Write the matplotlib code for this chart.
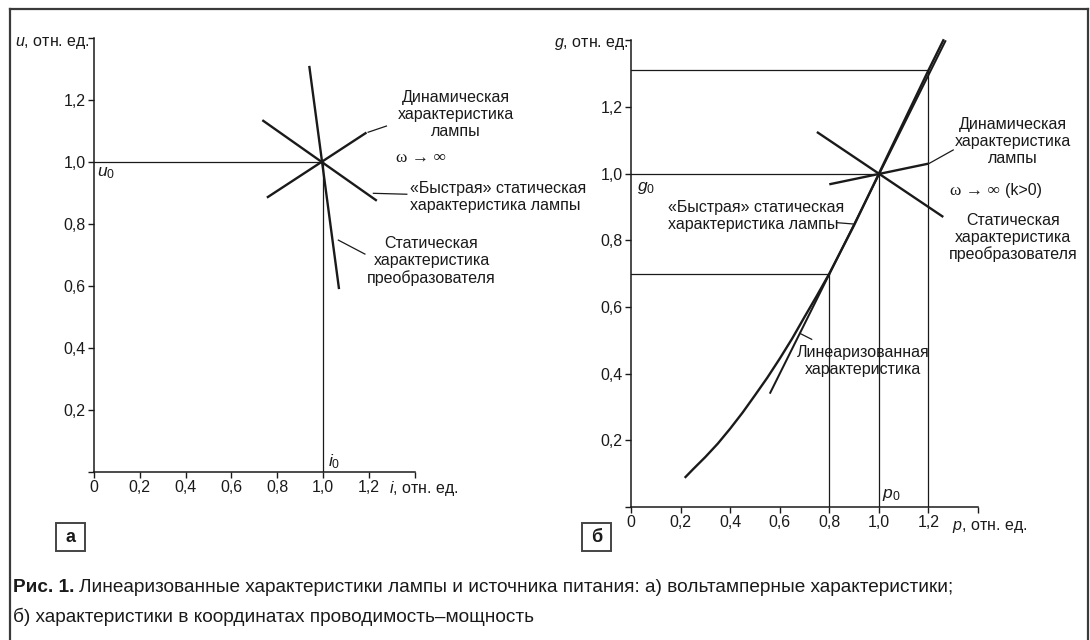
import matplotlib
matplotlib.use("Agg")
import matplotlib.pyplot as plt
from matplotlib.lines import Line2D
from matplotlib.patches import Rectangle

plt.rcParams['font.family'] = ['Liberation Sans', 'DejaVu Sans']
plt.rcParams['mathtext.fontset'] = 'custom'
plt.rcParams['mathtext.it'] = 'Liberation Sans:italic'
plt.rcParams['mathtext.rm'] = 'Liberation Sans'

# --- ДАННЫЕ ---

# шкалы (общие для обеих панелей)
ticks = [0, 0.2, 0.4, 0.6, 0.8, 1.0, 1.2, 1.4]
x_labels = ['0', '0,2', '0,4', '0,6', '0,8', '1,0', '1,2', '']
y_labels = ['', '0,2', '0,4', '0,6', '0,8', '1,0', '1,2', '']

# а) вольтамперные характеристики
i0, u0 = 1.0, 1.0
conv_i = [0.94, 1.07]     # статическая характеристика преобразователя
conv_u = [1.31, 0.59]
dyn_i = [0.755, 1.19]     # динамическая характеристика лампы
dyn_u = [0.885, 1.095]
fast_i = [0.735, 1.235]   # «быстрая» статическая характеристика лампы
fast_u = [1.135, 0.875]

# б) проводимость - мощность
p0, g0 = 1.0, 1.0
curve_p = [0.22, 0.25, 0.30, 0.35, 0.40, 0.45, 0.50, 0.55, 0.60, 0.65, 0.70,
           0.75, 0.80, 0.90, 1.00, 1.10, 1.20, 1.26]
curve_g = [0.09, 0.113, 0.15, 0.19, 0.235, 0.283, 0.335, 0.388, 0.445, 0.505, 0.57,
           0.634, 0.70, 0.845, 1.00, 1.155, 1.31, 1.40]
lin_p = [0.56, 1.27]      # линеаризованная характеристика
lin_g = [0.34, 1.40]
conv_p = [0.75, 1.26]     # статическая характеристика преобразователя
conv_g = [1.125, 0.87]
dyn_p = [0.80, 1.20]      # динамическая характеристика лампы
dyn_g = [0.968, 1.03]
mark_p = [0.8, 1.2]       # вспомогательные уровни
mark_g = [0.70, 1.31]

INK = '#1a1a1a'
THICK = 1.7
THIN = 0.9
FS = 11.5
LS = 1.15
SERIF = ['Liberation Serif', 'DejaVu Serif']


def setup_axes(ax):
    ax.set_xlim(0, 1.4)
    ax.set_ylim(0, 1.4)
    for s in ['top', 'right']:
        ax.spines[s].set_visible(False)
    for s in ['left', 'bottom']:
        ax.spines[s].set_linewidth(1.1)
        ax.spines[s].set_color(INK)
    ax.set_xticks(ticks)
    ax.set_xticklabels(x_labels)
    ax.set_yticks(ticks)
    ax.set_yticklabels(y_labels)
    ax.tick_params(direction='out', length=4, width=1.0, colors=INK,
                   labelsize=FS, pad=2)
    ax.set_facecolor('none')


def leader(ax, xs, ys):
    ax.plot(xs, ys, color=INK, lw=THIN, clip_on=False)


fig = plt.figure(figsize=(10.9, 6.4), dpi=100)

# --- ПАНЕЛЬ а ---
ax1 = fig.add_axes([94 / 1090, 1 - 472 / 640, 320.6 / 1090, 434 / 640])
setup_axes(ax1)
ax1.plot([0, i0], [u0, u0], color=INK, lw=THIN)
ax1.plot([i0, i0], [0, u0], color=INK, lw=THIN)
ax1.plot(conv_i, conv_u, color=INK, lw=THICK, solid_capstyle='butt')
ax1.plot(dyn_i, dyn_u, color=INK, lw=THICK, solid_capstyle='butt')
ax1.plot(fast_i, fast_u, color=INK, lw=THICK, solid_capstyle='butt')

leader(ax1, [1.197, 1.277], [1.096, 1.116])
leader(ax1, [1.220, 1.366], [0.899, 0.896])
leader(ax1, [1.067, 1.183], [0.748, 0.703])

ax1.text(1.581, 1.153, 'Динамическая\nхарактеристика\nлампы', ha='center', va='center',
         fontsize=FS, linespacing=LS, color=INK, clip_on=False)
ax1.text(1.428, 1.013, 'ω → ∞', ha='center', va='center', fontsize=12.5,
         family=SERIF, color=INK, clip_on=False)
ax1.text(1.378, 0.887, '«Быстрая» статическая\nхарактеристика лампы', ha='left', va='center',
         fontsize=FS, linespacing=LS, color=INK, clip_on=False)
ax1.text(1.474, 0.681, 'Статическая\nхарактеристика\nпреобразователя', ha='center', va='center',
         fontsize=FS, linespacing=LS, color=INK, clip_on=False)
ax1.text(-0.017, 1.384, '$u$, отн. ед.', ha='right', va='center', fontsize=FS, color=INK)
ax1.text(0.013, 0.965, '$u_\\mathrm{0}$', ha='left', va='center', fontsize=FS + 1, color=INK)
ax1.text(1.022, 0.035, '$i_\\mathrm{0}$', ha='left', va='center', fontsize=FS + 1, color=INK)
ax1.text(1.288, -0.052, '$i$, отн. ед.', ha='left', va='center', fontsize=FS, color=INK,
         clip_on=False)

# --- ПАНЕЛЬ б ---
ax2 = fig.add_axes([631 / 1090, 1 - 507 / 640, 347 / 1090, 466.7 / 640])
setup_axes(ax2)
ax2.plot([0, p0], [g0, g0], color=INK, lw=THIN)
ax2.plot([p0, p0], [0, g0], color=INK, lw=THIN)
for p, g in zip(mark_p, mark_g):
    ax2.plot([0, p], [g, g], color=INK, lw=THIN)
    ax2.plot([p, p], [0, g], color=INK, lw=THIN)
ax2.plot(curve_p, curve_g, color=INK, lw=THICK, clip_on=False, solid_joinstyle='round')
ax2.plot(lin_p, lin_g, color=INK, lw=THICK * 0.85, clip_on=False, solid_capstyle='butt')
ax2.plot(conv_p, conv_g, color=INK, lw=THICK, solid_capstyle='butt')
ax2.plot(dyn_p, dyn_g, color=INK, lw=THICK, solid_capstyle='butt')

leader(ax2, [1.199, 1.300], [1.029, 1.071])
leader(ax2, [0.829, 0.896], [0.853, 0.849])
leader(ax2, [0.681, 0.729], [0.521, 0.503])

ax2.text(1.540, 1.096, 'Динамическая\nхарактеристика\nлампы', ha='center', va='center',
         fontsize=FS, linespacing=LS, color=INK, clip_on=False)
ax2.text(1.286, 0.949, 'ω → ∞', ha='left', va='center', fontsize=12.5,
         family=SERIF, color=INK, clip_on=False)
ax2.text(1.508, 0.949, '(k>0)', ha='left', va='center', fontsize=FS,
         color=INK, clip_on=False)
ax2.text(1.542, 0.808, 'Статическая\nхарактеристика\nпреобразователя', ha='center', va='center',
         fontsize=FS, linespacing=LS, color=INK, clip_on=False)
ax2.text(0.148, 0.873, '«Быстрая» статическая\nхарактеристика лампы', ha='left', va='center',
         fontsize=FS, linespacing=LS, color=INK)
ax2.text(0.9375, 0.438, 'Линеаризованная\nхарактеристика', ha='center', va='center',
         fontsize=FS, linespacing=LS, color=INK)
ax2.text(-0.008, 1.389, '$g$, отн. ед.', ha='right', va='center', fontsize=FS, color=INK,
         clip_on=False)
ax2.text(0.024, 0.957, '$g_\\mathrm{0}$', ha='left', va='center', fontsize=FS + 1, color=INK)
ax2.text(1.012, 0.036, '$p_\\mathrm{0}$', ha='left', va='center', fontsize=FS + 1, color=INK)
ax2.text(1.294, -0.059, '$p$, отн. ед.', ha='left', va='center', fontsize=FS, color=INK,
         clip_on=False)

# --- рамка, метки панелей, подпись ---
W, H = 1090.0, 640.0
frame = dict(color='#3a3a3a', lw=1.6, transform=fig.transFigure)
fig.add_artist(Line2D([10 / W, 10 / W], [0, 1 - 9 / H], **frame))
fig.add_artist(Line2D([10 / W, 1087.5 / W], [1 - 9 / H, 1 - 9 / H], **frame))
fig.add_artist(Line2D([1087.5 / W, 1087.5 / W], [0, 1 - 9 / H], **frame))

for x0, lab in [(56, 'а'), (582, 'б')]:
    fig.add_artist(Rectangle((x0 / W, 1 - 551 / H), 29 / W, 28.5 / H, transform=fig.transFigure,
                             fill=False, ec='#444444', lw=1.4))
    fig.text((x0 + 14.5) / W, 1 - 537 / H, lab, ha='center', va='center', fontsize=13,
             fontweight='bold', color=INK)

CAP = 13.7
t_bold = fig.text(13 / W, 1 - 588 / H, 'Рис. 1.', ha='left', va='center', fontsize=CAP,
                  fontweight='bold', color=INK)
fig.canvas.draw()
bb = t_bold.get_window_extent(fig.canvas.get_renderer())
fig.text((bb.x1 + 5) / W, 1 - 588 / H,
         'Линеаризованные характеристики лампы и источника питания: а) вольтамперные характеристики;',
         ha='left', va='center', fontsize=CAP, color=INK)
fig.text(13 / W, 1 - 617 / H, 'б) характеристики в координатах проводимость–мощность',
         ha='left', va='center', fontsize=CAP, color=INK)

fig.savefig('out.png', dpi=100, facecolor='white')
